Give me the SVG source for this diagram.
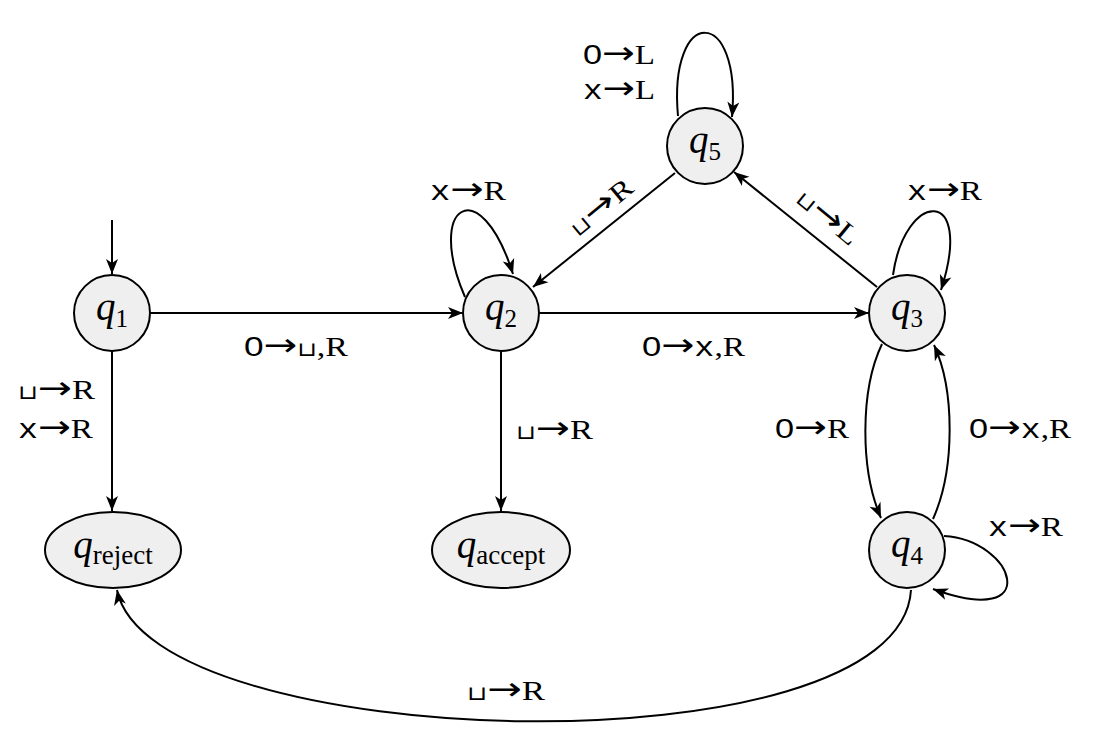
<svg xmlns="http://www.w3.org/2000/svg" width="1097" height="744" viewBox="0 0 1097 744">
<style>
.node{fill:#efefef;stroke:#000;stroke-width:2}
.edge{fill:none;stroke:#000;stroke-width:2;marker-end:url(#arr)}
.nl{font-family:"Liberation Serif","DejaVu Serif",serif;font-size:39px;text-anchor:middle}
.q{font-style:italic}
.sub{font-size:25px}
.subw{font-size:27px}
.lb{font-family:"Liberation Serif","DejaVu Serif",serif;font-size:27px}
.tt{font-family:"Liberation Mono","DejaVu Sans Mono",monospace;font-size:27px}
.z{font-family:"Liberation Sans","DejaVu Sans",sans-serif;font-size:28px}
.ar{font-family:"DejaVu Sans","Noto Sans",sans-serif;font-size:32px}
.bl{font-family:"DejaVu Sans","Noto Sans",sans-serif;font-size:20px}
.m{text-anchor:middle}
</style>
<defs>
<marker id="arr" markerUnits="userSpaceOnUse" markerWidth="20" markerHeight="16" viewBox="-16 -8 20 16" refX="0" refY="0" orient="auto">
<path d="M0,0 L-15,-6 L-11,0 L-15,6 Z" fill="#000"/>
</marker>
</defs>
<rect width="1097" height="744" fill="#fff"/>
<g id="connectors">
<path class="edge" d="M112,220 L112,274"/>
<path class="edge" d="M150,313 L463,313"/>
<path class="edge" d="M539,313 L869,313"/>
<path class="edge" d="M112,351 L112,511"/>
<path class="edge" d="M501,351 L501,511"/>
<path class="edge" d="M675,173 L533,287"/>
<path class="edge" d="M877,287 L734,172"/>
<path class="edge" d="M465,297 C425,205 480,170 513,274"/>
<path class="edge" d="M678,116 C668,5 742,5 732,117"/>
<path class="edge" d="M893,275 C905,190 975,185 941,290"/>
<path class="edge" d="M944,536 C1015,540 1045,630 933,589"/>
<path class="edge" d="M882,344 C860,390 860,470 881,518"/>
<path class="edge" d="M933,519 C955,470 955,390 934,345"/>
<path class="edge" d="M911,590 C900,775 150,755 117,590"/>
</g>
<g id="labels">
<text class="lb" x="583" y="64" textLength="72" lengthAdjust="spacingAndGlyphs"><tspan class="z">0</tspan><tspan class="ar">→</tspan>L</text>
<text class="lb" x="583" y="99" textLength="72" lengthAdjust="spacingAndGlyphs"><tspan class="tt">x</tspan><tspan class="ar">→</tspan>L</text>
<text class="lb" x="430" y="200" textLength="76" lengthAdjust="spacingAndGlyphs"><tspan class="tt">x</tspan><tspan class="ar">→</tspan>R</text>
<text class="lb m" transform="translate(601,207) rotate(-39.3)" x="0" y="9" textLength="74" lengthAdjust="spacingAndGlyphs"><tspan class="bl">⊔</tspan><tspan class="ar">→</tspan>R</text>
<text class="lb m" transform="translate(828,217) rotate(39.6)" x="0" y="9" textLength="72" lengthAdjust="spacingAndGlyphs"><tspan class="bl">⊔</tspan><tspan class="ar">→</tspan>L</text>
<text class="lb" x="907" y="200" textLength="75" lengthAdjust="spacingAndGlyphs"><tspan class="tt">x</tspan><tspan class="ar">→</tspan>R</text>
<text class="lb" x="244" y="356" textLength="104" lengthAdjust="spacingAndGlyphs"><tspan class="z">0</tspan><tspan class="ar">→</tspan><tspan class="bl">⊔</tspan>,R</text>
<text class="lb" x="642" y="356" textLength="103" lengthAdjust="spacingAndGlyphs"><tspan class="z">0</tspan><tspan class="ar">→</tspan><tspan class="tt">x</tspan>,R</text>
<text class="lb" x="18" y="399" textLength="77" lengthAdjust="spacingAndGlyphs"><tspan class="bl">⊔</tspan><tspan class="ar">→</tspan>R</text>
<text class="lb" x="18" y="438" textLength="75" lengthAdjust="spacingAndGlyphs"><tspan class="tt">x</tspan><tspan class="ar">→</tspan>R</text>
<text class="lb" x="516" y="439" textLength="77" lengthAdjust="spacingAndGlyphs"><tspan class="bl">⊔</tspan><tspan class="ar">→</tspan>R</text>
<text class="lb" x="775" y="438" textLength="74" lengthAdjust="spacingAndGlyphs"><tspan class="z">0</tspan><tspan class="ar">→</tspan>R</text>
<text class="lb" x="969" y="438" textLength="102" lengthAdjust="spacingAndGlyphs"><tspan class="z">0</tspan><tspan class="ar">→</tspan><tspan class="tt">x</tspan>,R</text>
<text class="lb" x="988" y="536" textLength="75" lengthAdjust="spacingAndGlyphs"><tspan class="tt">x</tspan><tspan class="ar">→</tspan>R</text>
<text class="lb" x="467" y="700" textLength="78" lengthAdjust="spacingAndGlyphs"><tspan class="bl">⊔</tspan><tspan class="ar">→</tspan>R</text>
</g>
<g id="q1"><circle class="node" cx="112" cy="313" r="38"/><text class="nl" x="112" y="320"><tspan class="q">q</tspan><tspan class="sub" dy="7">1</tspan></text></g>
<g id="q2"><circle class="node" cx="501" cy="313" r="38"/><text class="nl" x="501" y="320"><tspan class="q">q</tspan><tspan class="sub" dy="7">2</tspan></text></g>
<g id="q3"><circle class="node" cx="907" cy="313" r="38"/><text class="nl" x="907" y="320"><tspan class="q">q</tspan><tspan class="sub" dy="7">3</tspan></text></g>
<g id="q4"><circle class="node" cx="907" cy="550" r="38"/><text class="nl" x="907" y="557"><tspan class="q">q</tspan><tspan class="sub" dy="7">4</tspan></text></g>
<g id="q5"><circle class="node" cx="705" cy="146" r="38"/><text class="nl" x="705" y="153"><tspan class="q">q</tspan><tspan class="sub" dy="7">5</tspan></text></g>
<g id="qreject"><ellipse class="node" cx="113" cy="550" rx="68" ry="38"/><text class="nl" x="113" y="558"><tspan class="q">q</tspan><tspan class="subw" dy="6">reject</tspan></text></g>
<g id="qaccept"><ellipse class="node" cx="501" cy="550" rx="69" ry="38"/><text class="nl" x="501" y="558"><tspan class="q">q</tspan><tspan class="subw" dy="6">accept</tspan></text></g>
</svg>
